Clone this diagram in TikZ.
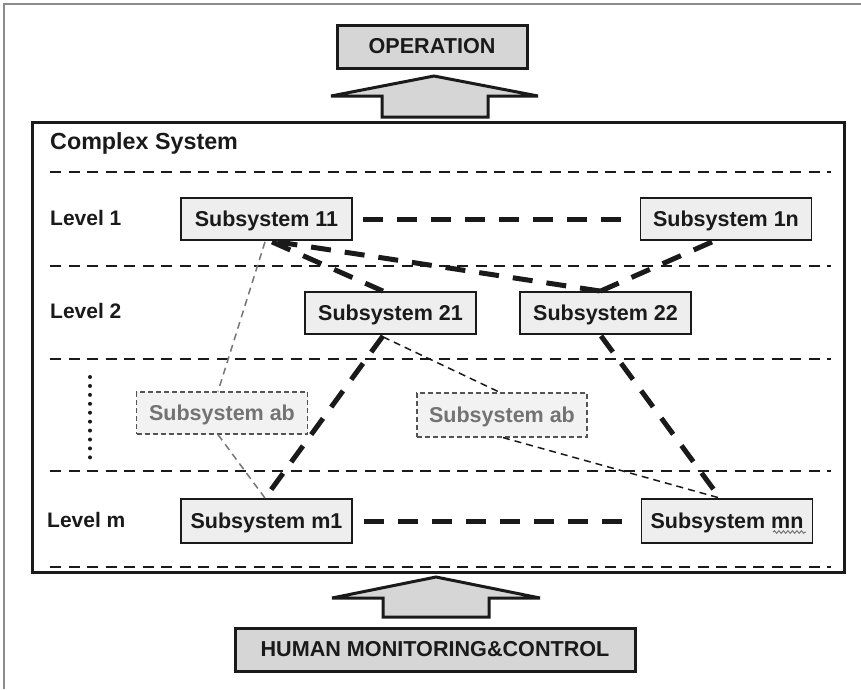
\documentclass[tikz,border=0pt]{standalone}
\usepackage{fontspec}
\setmainfont{Liberation Sans}
\usetikzlibrary{calc,decorations.pathmorphing}

\definecolor{ink}{HTML}{1A1A1A}
\definecolor{boxgray}{HTML}{D6D6D6}
\definecolor{subfill}{HTML}{EEEEEE}
\definecolor{ghostfill}{HTML}{F2F2F2}
\definecolor{ghosttext}{HTML}{737373}
\definecolor{framegray}{HTML}{8C8C8C}

\tikzset{
  titlebox/.style={draw=ink, line width=3pt, fill=boxgray, text=ink,
    font=\fontsize{21.6}{25}\selectfont\bfseries, inner sep=0pt},
  subbox/.style={draw=ink, line width=1.8pt, fill=subfill, text=ink,
    minimum width=171pt, minimum height=42pt, inner sep=0pt, text depth=0pt,
    font=\fontsize{21.5}{25}\selectfont\bfseries},
  ghostbox/.style={draw=ink!75, dashed, dash pattern=on 5pt off 3pt, line width=1.2pt,
    fill=ghostfill, text=ghosttext, text depth=0pt,
    minimum width=171pt, minimum height=42pt, inner sep=0pt,
    font=\fontsize{21.5}{25}\selectfont\bfseries},
  levellabel/.style={anchor=west, inner sep=0pt, text=ink,
    font=\fontsize{21}{25}\selectfont\bfseries},
  separator/.style={ink, line width=2pt, dash pattern=on 11pt off 7.5pt},
  strong/.style={ink, line width=5pt, dash pattern=on 20pt off 14pt},
  weaklink/.style={ink!60, line width=1.5pt, dash pattern=on 7pt off 5pt},
  darklink/.style={ink, line width=1.5pt, dash pattern=on 7pt off 5pt},
  bigarrow/.style={draw=ink, line width=3pt, fill=boxgray, line join=miter},
}

\begin{document}
\begin{tikzpicture}[x=1pt,y=-1pt]
  \useasboundingbox (0,0) rectangle (861,689);

  % page frame (top and left edges)
  \draw[framegray, line width=2pt] (3.5,689) -- (3.5,3.5) -- (861,3.5);

  % output box and arrow
  \node[titlebox, minimum width=190pt, minimum height=43pt] (op) at (432,46.5) {OPERATION};
  \draw[bigarrow] (434,76) -- (538,96) -- (488,96) -- (488,117) -- (382,117)
                  -- (382,96) -- (331,96) -- cycle;

  % system frame
  \draw[ink, line width=3pt] (32,122) rectangle (844,572);
  \node[anchor=west, inner sep=0pt, text=ink, font=\fontsize{23.3}{27}\selectfont\bfseries]
    (cs) at (50,143.5) {Complex System};

  % level separators
  \foreach \yy in {172,266,359,471,567}
    \draw[separator] (50,\yy) -- (831,\yy);

  % level labels
  \node[levellabel] (l1) at (50,218) {Level 1};
  \node[levellabel] (l2) at (50,311) {Level 2};
  \node[levellabel] (lm) at (47,520) {Level m};
  \draw[ink, line width=4pt, line cap=round, dash pattern=on 0pt off 8.93pt]
    (90,377) -- (90,458);

  % subsystems
  \node[subbox] (s11) at (266.5,219) {Subsystem 11};
  \node[subbox] (s1n) at (726,219)   {Subsystem 1n};
  \node[subbox] (s21) at (390.5,313) {Subsystem 21};
  \node[subbox] (s22) at (605.5,313) {Subsystem 22};
  \node[ghostbox] (ab1) at (222,413) {Subsystem ab};
  \node[ghostbox, minimum width=170pt, minimum height=44pt] (ab2) at (502,415) {Subsystem ab};
  \node[subbox, minimum height=44pt] (sm1) at (266.5,521) {Subsystem m1};
  \node[subbox, minimum height=44pt] (smn) at (727,521)   {Subsystem mn};
  \draw[ink!60, line width=1pt, decorate,
        decoration={snake, amplitude=1.3pt, segment length=4.5pt}]
    ($(smn.center)+(46,11)$) -- ($(smn.center)+(79,11)$);

  % strong links
  \draw[strong, shorten <=10pt, shorten >=17pt] (s11.east) -- (s1n.west);
  \draw[strong, shorten <=11pt, shorten >=18pt] (sm1.east) -- (smn.west);
  \draw[strong] ($(s11.south)+(5.5,1)$) -- ($(s21.north)+(-7.5,0)$);
  \draw[strong] ($(s11.south)+(11,1)$) -- ($(s22.north)+(-5,0)$);
  \draw[strong] ($(s1n.south)+(-14,1)$) -- ($(s22.north)+(-5,0)$);
  \draw[strong] ($(s21.south)+(-7.5,1)$) -- ($(sm1.north)+(-1.5,0)$);
  \draw[strong] ($(s22.south)+(-4.5,1)$) -- ($(smn.north)+(-7,0)$);

  % weak links through the intermediate levels
  \draw[weaklink] ($(s11.south)+(-1.5,1)$) -- ($(ab1.north)+(-4,0)$);
  \draw[weaklink] ($(ab1.south)+(-4,0)$) -- ($(sm1.north)+(-1.5,0)$);
  \draw[darklink] ($(s21.south)+(-7.5,2)$) -- ($(ab2.north)+(-2,0)$);
  \draw[darklink] ($(ab2.south)+(1,0)$) -- ($(smn.north)+(-7,0)$);

  % input arrow and box
  \draw[bigarrow] (436,577) -- (540,598) -- (489,598) -- (489,617) -- (383,617)
                  -- (383,598) -- (332,598) -- cycle;
  \node[titlebox, minimum width=400pt, minimum height=43pt] (hmc) at (435,649.5)
    {HUMAN MONITORING\&CONTROL};
\end{tikzpicture}
\end{document}
